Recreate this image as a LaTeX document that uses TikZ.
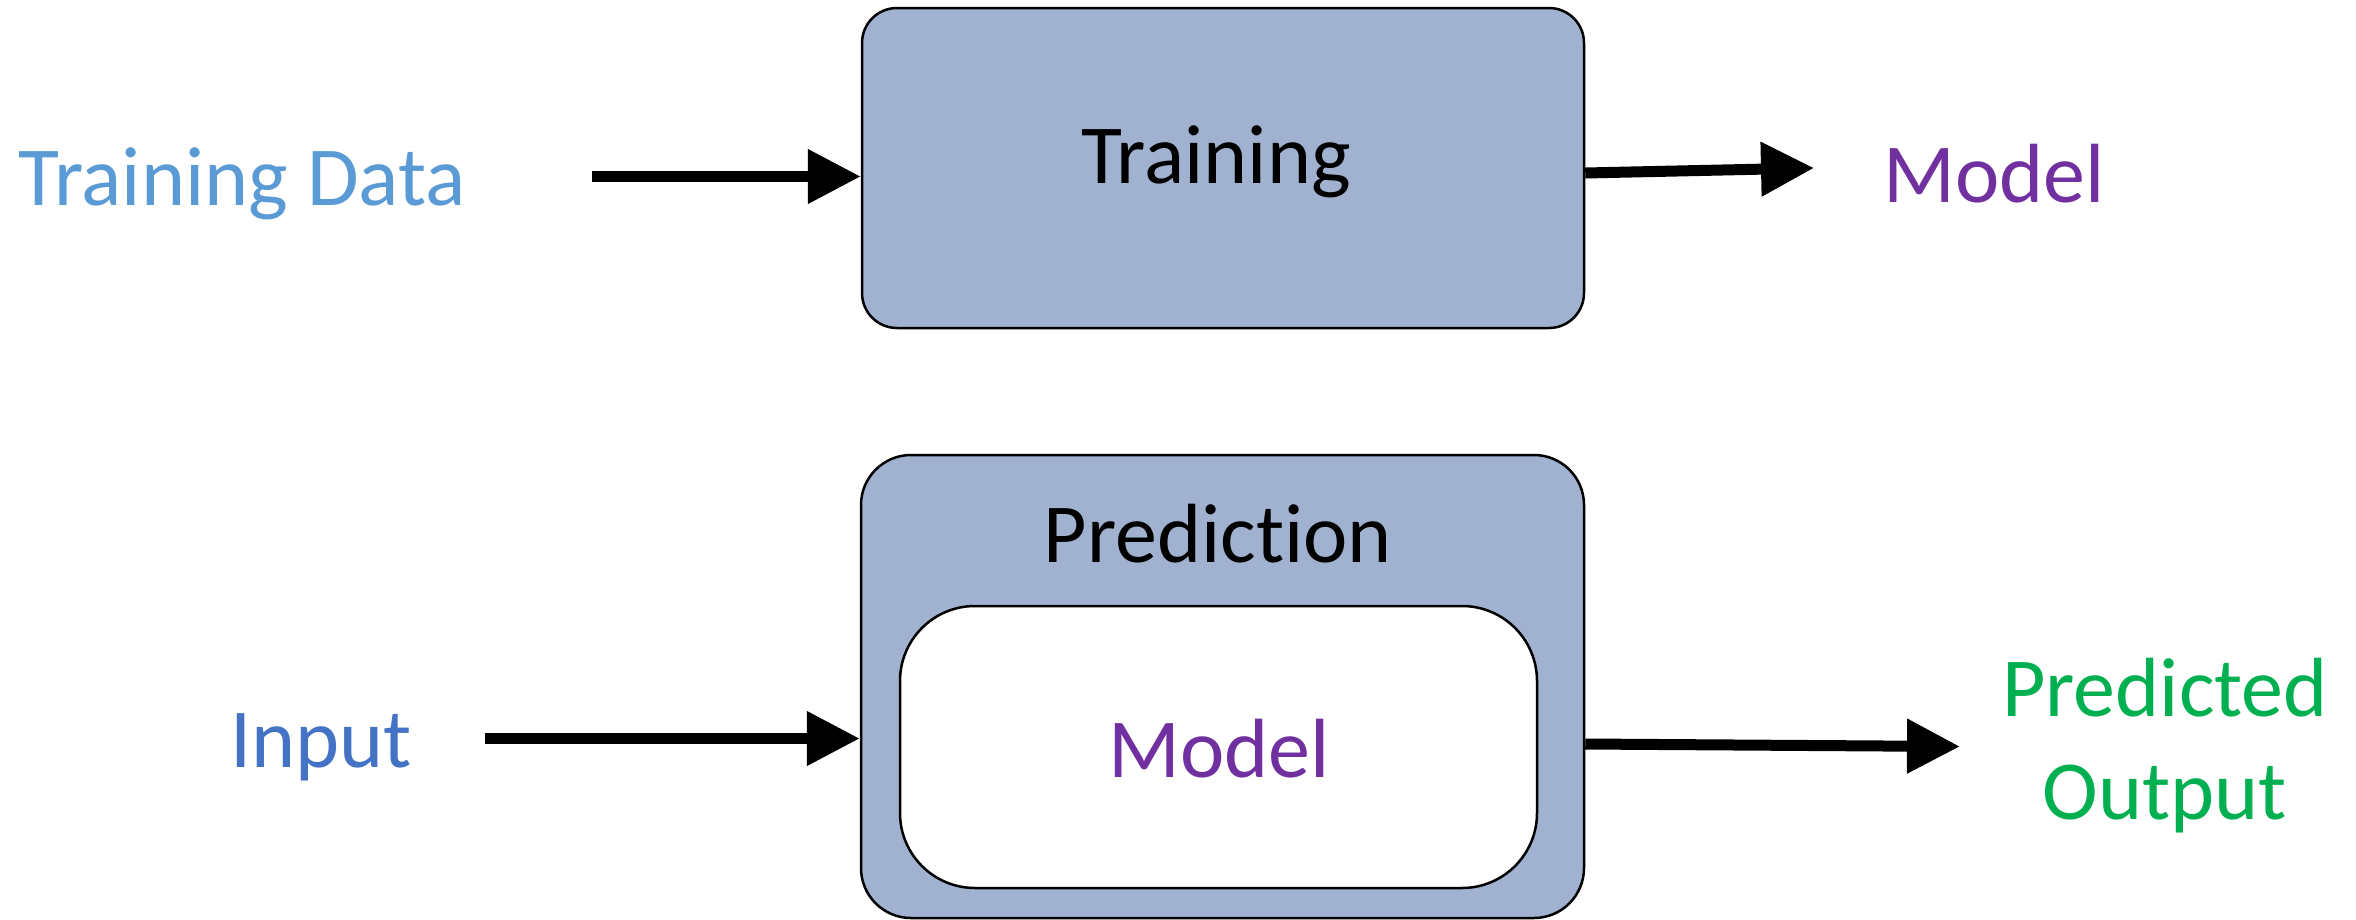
\documentclass[tikz,border=0pt]{standalone}
\usepackage{fontspec}
\setmainfont{Carlito}[Ligatures=NoCommon]
\usetikzlibrary{arrows.meta,calc}
\definecolor{boxfill}{RGB}{161,178,209}
\definecolor{tdblue}{RGB}{91,155,213}
\definecolor{inblue}{RGB}{68,114,196}
\definecolor{mpurple}{RGB}{112,48,160}
\definecolor{pgreen}{RGB}{0,176,80}
\tikzset{
  bigbox/.style={draw=black, line width=2.5pt, fill=boxfill, inner sep=0pt},
  innerbox/.style={draw=black, line width=2.5pt, fill=white, inner sep=0pt, rounded corners=75pt},
  lbl/.style={inner sep=0pt, anchor=base, font=\fontsize{84}{103}\selectfont},
  arr/.style={line width=11pt, -{Triangle[length=53pt,width=52pt]}}
}
\begin{document}
\begin{tikzpicture}[x=1pt,y=-1pt]
\useasboundingbox (0,0) rectangle (2356,919);
% boxes
\node[bigbox, rounded corners=35pt, minimum width=722pt, minimum height=320pt] (train) at (1223,168) {};
\node[bigbox, rounded corners=50pt, minimum width=723pt, minimum height=463pt] (pred) at (1222.5,686.5) {};
\node[innerbox, minimum width=637pt, minimum height=282pt] (inner) at (1218.5,747) {};
% texts
\node[lbl] (traintxt) at (1216,183) {Training};
\node[lbl, text=tdblue] (tdata) at (242,205) {Training Data};
\node[lbl, text=mpurple] (model1) at (1994,202) {Model};
\node[lbl] (predtxt) at (1218,562) {Prediction};
\node[lbl, text=mpurple] (model2) at (1219,777) {Model};
\node[lbl, text=inblue] (input) at (321,767) {Input};
\node[lbl, text=pgreen, align=center] (pout) at (2165,819) {Predicted\\Output};
% arrow end points
\coordinate (a1s) at (592,176.5);
\coordinate (m1tip) at (1814,168);
\coordinate (in1s) at (485,738.5);
\coordinate (o1tip) at (1960,746.5);
% connectors
\draw[arr] (a1s) -- (a1s -| train.west);
\draw[arr] ($(train.east)+(0,5)$) -- (m1tip);
\draw[arr] (in1s) -- (in1s -| pred.west);
\draw[arr] ($(pred.east)+(0,57.5)$) -- (o1tip);
\end{tikzpicture}
\end{document}
